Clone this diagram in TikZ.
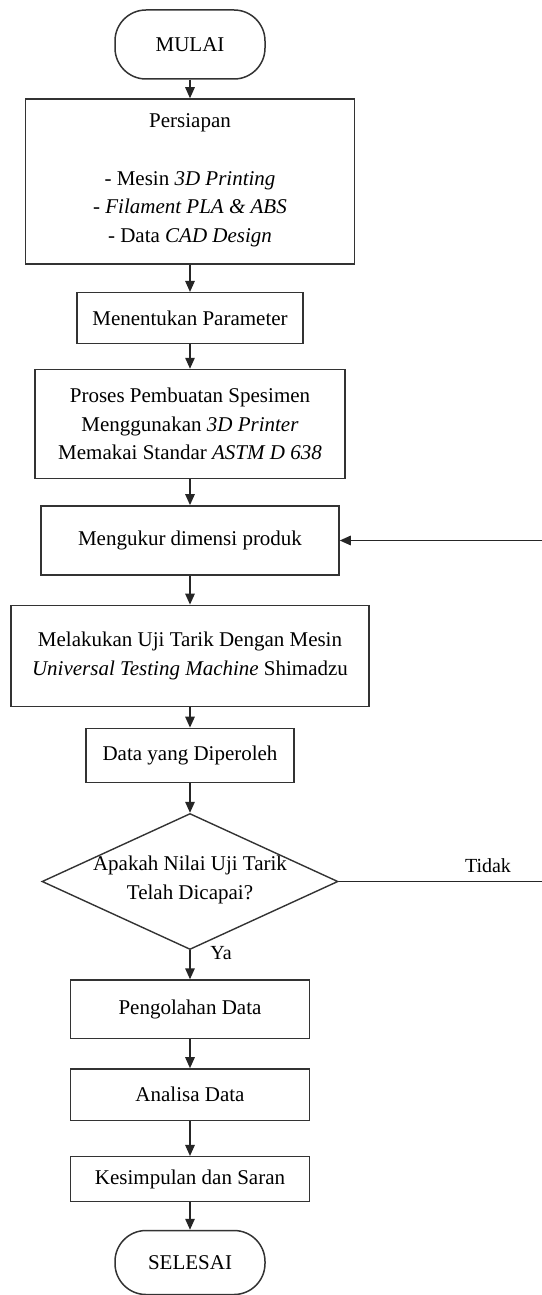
\documentclass[tikz,border=0pt]{standalone}
\usepackage{fontspec}
\setmainfont{Liberation Serif}
\usetikzlibrary{shapes.geometric,arrows.meta}
\begin{document}
\begin{tikzpicture}[x=1pt,y=-1pt,
  every node/.style={font=\fontsize{21}{28.7}\selectfont, inner sep=0pt, align=center, text=black},
  procbox/.style={draw=black!80, line width=1.5pt, rectangle},
  termbox/.style={draw=black!80, line width=1.5pt, rectangle, rounded corners=31pt, minimum width=150pt},
  decbox/.style={draw=black!80, line width=1.4pt, diamond},
  flow/.style={draw=black!85, line width=1.4pt, -{Triangle[length=11pt,width=9.5pt]}},
  lbl/.style={font=\fontsize{20}{24}\selectfont}
]
\useasboundingbox[fill=white] (0,0) rectangle (541,1295);

\node[termbox, minimum height=69pt] (mulai) at (190,44.5) {MULAI};
\node[procbox, minimum width=329pt, minimum height=165pt] (persiapan) at (190,181.5) {};
\node (persiapantext) at (190,180.5) {Persiapan\\[28.7pt]- Mesin \textit{3D Printing}\\\textit{- Filament PLA \& ABS}\\- Data \textit{CAD Design}};
\node[procbox, minimum width=226pt, minimum height=50.6pt] (param) at (190,318) {Menentukan Parameter};
\node[procbox, minimum width=310pt, minimum height=109pt] (proses) at (190,424) {Proses Pembuatan Spesimen\\Menggunakan \textit{3D Printer}\\Memakai Standar \textit{ASTM D 638}};
\node[procbox, minimum width=298pt, minimum height=69.3pt] (ukur) at (190,540.5) {Mengukur dimensi produk};
\node[procbox, minimum width=358pt, minimum height=101.3pt] (uji) at (190,656) {Melakukan Uji Tarik Dengan Mesin\\\textit{Universal Testing Machine} Shimadzu};
\node[procbox, minimum width=208.3pt, minimum height=54.3pt] (data) at (190,755.5) {Data yang Diperoleh};
\node[decbox, minimum width=296pt, minimum height=136pt] (dec) at (190,881.5) {};
\node (dectext) at (190,880) {Apakah Nilai Uji Tarik\\Telah Dicapai?};
\node[lbl] (tidak) at (488,866) {Tidak};
\node[lbl] (ya) at (221,953) {Ya};
\node[procbox, minimum width=239.3pt, minimum height=58.3pt] (olah) at (190,1009.2) {Pengolahan Data};
\node[procbox, minimum width=239.3pt, minimum height=51.7pt] (analisa) at (190,1094.8) {Analisa Data};
\node[procbox, minimum width=239.3pt, minimum height=45pt] (simpul) at (190,1179.2) {Kesimpulan dan Saran};
\node[termbox, minimum height=64pt] (selesai) at (190,1262.5) {SELESAI};

\coordinate (loopA) at (543.5,881.5);
\coordinate (loopB) at (543.5,540.5);

\draw[flow] (mulai.south) -- (persiapan.north);
\draw[flow] (persiapan.south) -- (param.north);
\draw[flow] (param.south) -- (proses.north);
\draw[flow] (proses.south) -- (ukur.north);
\draw[flow] (ukur.south) -- (uji.north);
\draw[flow] (uji.south) -- (data.north);
\draw[flow] (data.south) -- (dec.north);
\draw[flow] (dec.south) -- (olah.north);
\draw[flow] (olah.south) -- (analisa.north);
\draw[flow] (analisa.south) -- (simpul.north);
\draw[flow] (simpul.south) -- (selesai.north);
\draw[flow] (dec.east) -- (loopA) -- (loopB) -- (ukur.east);
\end{tikzpicture}
\end{document}
